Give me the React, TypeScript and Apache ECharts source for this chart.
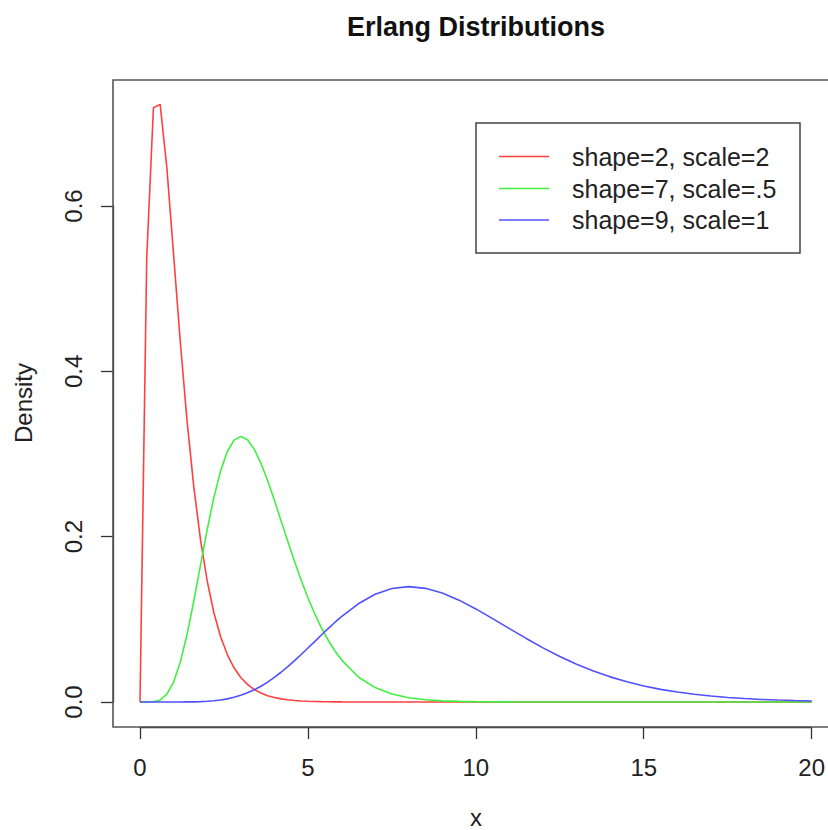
import React, { useEffect, useRef } from "react";
import * as echarts from "echarts";

const TITLE = "Erlang Distributions";
const X_NAME = "x";
const Y_NAME = "Density";
const SERIES_NAMES = ["shape=2, scale=2", "shape=7, scale=.5", "shape=9, scale=1"];
const SERIES_COLORS = ["#ff4040", "#40f040", "#5050ff"];

const xs = [
  0, 0.2, 0.4, 0.6, 0.8, 1.0, 1.2, 1.4, 1.6, 1.8, 2.0, 2.2, 2.4, 2.6, 2.8, 3.0,
  3.2, 3.4, 3.6, 3.8, 4.0, 4.2, 4.4, 4.6, 4.8, 5.0, 5.2, 5.4, 5.6, 5.8, 6.0,
  6.5, 7, 7.5, 8, 8.5, 9, 9.5, 10, 10.5, 11, 11.5, 12, 12.5, 13, 13.5, 14,
  14.5, 15, 15.5, 16, 16.5, 17, 17.5, 18, 18.5, 19, 19.5, 20,
];

const redY = [
  0, 0.5363, 0.7189, 0.7229, 0.6461, 0.5413, 0.4355, 0.3405, 0.2609, 0.1967,
  0.1465, 0.108, 0.079, 0.0574, 0.0414, 0.0297, 0.0213, 0.0151, 0.0108,
  0.0076, 0.0054, 0.0038, 0.0027, 0.0019, 0.0013, 0.0009, 0.0006, 0.0004,
  0.0003, 0.0002, 0.0001,
  0.00003, 0.00001, 0, 0, 0, 0, 0, 0, 0, 0, 0, 0, 0, 0, 0, 0, 0, 0, 0, 0, 0,
  0, 0, 0, 0, 0, 0, 0,
];

const greenY = [
  0, 0, 0.0003, 0.0025, 0.0094, 0.0241, 0.0482, 0.0814, 0.1216, 0.1652,
  0.2084, 0.2475, 0.2796, 0.303, 0.3168, 0.3213, 0.3172, 0.3059, 0.2889,
  0.2679, 0.2443, 0.2194, 0.1945, 0.1702, 0.1473, 0.1261, 0.107, 0.0899,
  0.075, 0.062, 0.051,
  0.0303, 0.0174, 0.0097, 0.0052, 0.0028, 0.0014, 0.0007, 0.0004, 0.0002,
  0.0001, 0.00004, 0.00002, 0, 0, 0, 0, 0, 0, 0, 0, 0, 0, 0, 0, 0, 0, 0, 0,
];

const blueY = [
  0, 0, 0, 0, 0, 0, 0, 0.0001, 0.0002, 0.0005, 0.0009, 0.0015, 0.0025, 0.0038,
  0.0057, 0.0081, 0.0111, 0.0148, 0.0191, 0.0241, 0.0298, 0.036, 0.0428, 0.05,
  0.0575, 0.0653, 0.0731, 0.081, 0.0887, 0.0962, 0.1033,
  0.1188, 0.1304, 0.1373, 0.1396, 0.1375, 0.1318, 0.1232, 0.1126, 0.1009,
  0.0888, 0.0769, 0.0655, 0.0551, 0.0457, 0.0375, 0.0304, 0.0244, 0.0194,
  0.0153, 0.012, 0.0093, 0.0072, 0.0055, 0.0042, 0.0031, 0.0024, 0.0018,
  0.0013,
];

const X_MIN = 0;
const X_MAX = 20;
const X_STEP = 5;
const Y_MIN = 0;
const Y_MAX = 0.6;
const Y_STEP = 0.2;

const FONT = "'Liberation Sans', Arial, Helvetica, sans-serif";

export default function App() {
  const ref = useRef<HTMLDivElement | null>(null);

  useEffect(() => {
    if (!ref.current) return;
    const chart = echarts.init(ref.current, undefined, { renderer: "svg" });
    const ys = [redY, greenY, blueY];

    const legendRows = [156.5, 188.5, 220];
    const axisLineStyle = { color: "#333", width: 1.3 };

    const option: any = {
      animation: false,
      backgroundColor: "#ffffff",
      grid: [
        // data area: x 0..20, y 0..0.6
        { left: 140, top: 206, width: 671.7, height: 496, containLabel: false },
        // x axis carrier: bottom edge on the box (y = 727)
        { left: 140, top: 206, width: 671.7, height: 521, containLabel: false },
        // y axis carrier: left edge on the box (x = 113)
        { left: 113, top: 206, width: 698.7, height: 496, containLabel: false },
      ],
      xAxis: [
        {
          gridIndex: 0,
          type: "value",
          min: X_MIN,
          max: X_MAX,
          interval: X_STEP,
          show: false,
        },
        {
          gridIndex: 1,
          type: "value",
          min: X_MIN,
          max: X_MAX,
          interval: X_STEP,
          axisLine: { show: true, lineStyle: axisLineStyle },
          axisTick: { show: true, length: 12, lineStyle: axisLineStyle },
          axisLabel: {
            margin: 28,
            fontFamily: FONT,
            fontSize: 24,
            color: "#222",
          },
          splitLine: { show: false },
        },
        {
          gridIndex: 2,
          type: "value",
          show: false,
        },
      ],
      yAxis: [
        {
          gridIndex: 0,
          type: "value",
          min: Y_MIN,
          max: Y_MAX,
          interval: Y_STEP,
          show: false,
        },
        {
          gridIndex: 1,
          type: "value",
          show: false,
        },
        {
          gridIndex: 2,
          type: "value",
          min: Y_MIN,
          max: Y_MAX,
          interval: Y_STEP,
          axisLine: { show: true, lineStyle: axisLineStyle },
          axisTick: { show: true, length: 12, lineStyle: axisLineStyle },
          axisLabel: {
            rotate: 90,
            margin: 28,
            fontFamily: FONT,
            fontSize: 24,
            lineHeight: 24,
            color: "#222",
            formatter: (v: number) => v.toFixed(1),
          },
          splitLine: { show: false },
        },
      ],
      series: SERIES_NAMES.map((name, i) => ({
        name,
        type: "line",
        xAxisIndex: 0,
        yAxisIndex: 0,
        showSymbol: false,
        clip: false,
        data: xs.map((x, j) => [x, ys[i][j]]),
        lineStyle: { color: SERIES_COLORS[i], width: 1.6 },
        itemStyle: { color: SERIES_COLORS[i] },
        z: 3 + i,
      })),
      graphic: [
        {
          type: "rect",
          shape: { x: 113, y: 80, width: 726, height: 647 },
          style: { fill: "none", stroke: "#555", lineWidth: 1.6 },
          z: 10,
        },
        {
          type: "text",
          x: 476,
          y: 27,
          style: {
            text: TITLE,
            font: `bold 27px ${FONT}`,
            fill: "#111",
            textAlign: "center",
            textVerticalAlign: "middle",
          },
        },
        {
          type: "text",
          x: 476,
          y: 817,
          style: {
            text: X_NAME,
            font: `24px ${FONT}`,
            fill: "#222",
            textAlign: "center",
            textVerticalAlign: "middle",
          },
        },
        {
          type: "text",
          x: 23,
          y: 403,
          rotation: Math.PI / 2,
          style: {
            text: Y_NAME,
            font: `24px ${FONT}`,
            fill: "#222",
            textAlign: "center",
            textVerticalAlign: "middle",
          },
        },
        {
          type: "rect",
          shape: { x: 476, y: 123, width: 324, height: 130 },
          style: { fill: "#fff", stroke: "#444", lineWidth: 1.5 },
          z: 20,
        },
        ...SERIES_NAMES.flatMap((name, i) => [
          {
            type: "line",
            shape: { x1: 499, y1: legendRows[i], x2: 549, y2: legendRows[i] },
            style: { stroke: SERIES_COLORS[i], lineWidth: 1.6 },
            z: 21,
          },
          {
            type: "text",
            x: 572,
            y: legendRows[i],
            style: {
              text: name,
              font: `25px ${FONT}`,
              fill: "#222",
              textAlign: "left",
              textVerticalAlign: "middle",
            },
            z: 21,
          },
        ]),
      ],
    };

    chart.setOption(option);
    return () => chart.dispose();
  }, []);

  return (
    <div
      ref={ref}
      style={{ position: "fixed", left: 0, top: 0, width: 828, height: 830 }}
    />
  );
}
